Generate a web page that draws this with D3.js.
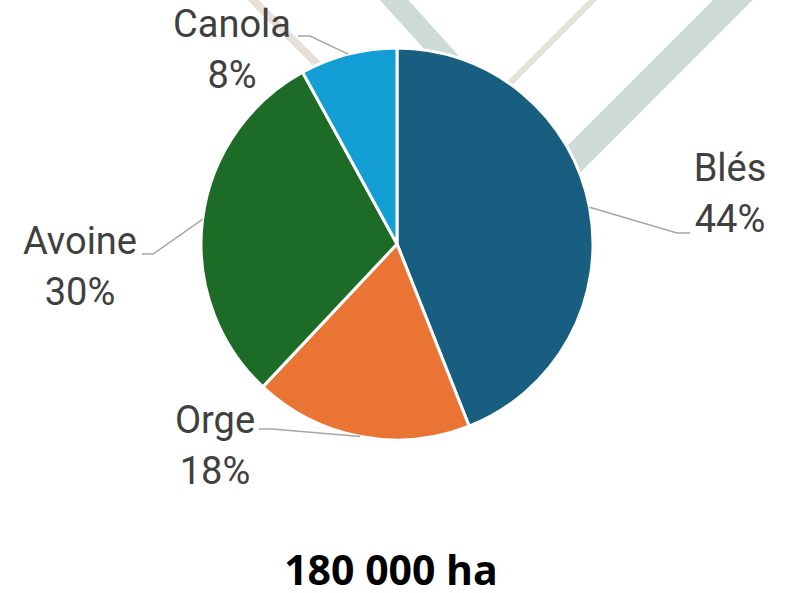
<!DOCTYPE html>
<html>
<head>
<meta charset="utf-8">
<script src="https://cdn.jsdelivr.net/npm/d3@7"></script>
<style>
  body { margin: 0; background: #fff; }
  svg { display: block; }
</style>
</head>
<body>
<div id="chart"></div>
<script>
var w = 800;
var h = 593;

// data
var crops = ["Blés", "Orge", "Avoine", "Canola"];
var shares = [44, 18, 30, 8];
var colors = ["#175e80", "#e97434", "#1c6b26", "#139fd6"];
var total = "180 000 ha";

// label layout (center x, first baseline, elbow x of leader)
var labelPos = {
  "Blés":   { x: 730, y: 181, ex: 677, ey: 233, tx: 690 },
  "Orge":   { x: 215, y: 433, ex: 272, ey: 429, tx: 259 },
  "Avoine": { x: 80,  y: 254, ex: 153, ey: 254, tx: 142 },
  "Canola": { x: 232, y: 37,  ex: 310, ey: 36,  tx: 298 }
};

var cx = 397, cy = 244, r = 196;

var svg = d3.select("#chart").append("svg").attr("width", w).attr("height", h);

// decorative stripes in the background
var stripes = [
  { x1: 385, y1: -10, x2: 480, y2: 95, c: "#cddad8", sw: 21 },
  { x1: 743, y1: -10, x2: 520, y2: 213, c: "#cddad8", sw: 28 },
  { x1: 603, y1: -10, x2: 500, y2: 93, c: "#e5e0d8", sw: 6 },
  { x1: 243, y1: -10, x2: 330, y2: 77, c: "#e5e0d8", sw: 8 }
];
svg.selectAll("line.stripe")
  .data(stripes)
  .enter()
  .append("line")
  .attr("class", "stripe")
  .attr("x1", (d) => d.x1).attr("y1", (d) => d.y1)
  .attr("x2", (d) => d.x2).attr("y2", (d) => d.y2)
  .attr("stroke", (d) => d.c)
  .attr("stroke-width", (d) => d.sw);

var pie = d3.pie().sort(null).value((d) => d);
var arcs = pie(shares);
var arc = d3.arc().innerRadius(0).outerRadius(r);

var g = svg.append("g").attr("transform", "translate(" + cx + "," + cy + ")");

g.selectAll("path")
  .data(arcs)
  .enter()
  .append("path")
  .attr("d", arc)
  .attr("fill", (d, i) => colors[i])
  .attr("stroke", "#fff")
  .attr("stroke-width", 3)
  .attr("stroke-linejoin", "round");

// leader lines
svg.selectAll("polyline.leader")
  .data(arcs)
  .enter()
  .append("polyline")
  .attr("class", "leader")
  .attr("points", function (d, i) {
    var a = (d.startAngle + d.endAngle) / 2;
    var px = cx + r * Math.sin(a);
    var py = cy - r * Math.cos(a);
    var p = labelPos[crops[i]];
    return [[px, py], [p.ex, p.ey], [p.tx, p.ey]].map((q) => q.join(",")).join(" ");
  })
  .attr("fill", "none")
  .attr("stroke", "#a6a6a6")
  .attr("stroke-width", 1.5);

// labels
var labels = svg.selectAll("text.label")
  .data(arcs)
  .enter()
  .append("text")
  .attr("class", "label")
  .attr("text-anchor", "middle")
  .attr("font-family", "Roboto, 'Noto Sans', sans-serif")
  .attr("font-size", "38px")
  .attr("fill", "#404040");

labels.append("tspan")
  .attr("x", (d, i) => labelPos[crops[i]].x)
  .attr("y", (d, i) => labelPos[crops[i]].y)
  .text((d, i) => crops[i]);

labels.append("tspan")
  .attr("x", (d, i) => labelPos[crops[i]].x)
  .attr("y", (d, i) => labelPos[crops[i]].y + 51)
  .text((d) => d.data + "%");

// total
svg.append("text")
  .attr("x", 391)
  .attr("y", 585)
  .attr("text-anchor", "middle")
  .attr("font-family", "'Open Sans', sans-serif")
  .attr("font-weight", "bold")
  .attr("font-size", "41px")
  .attr("fill", "#000")
  .text(total);
</script>
</body>
</html>
